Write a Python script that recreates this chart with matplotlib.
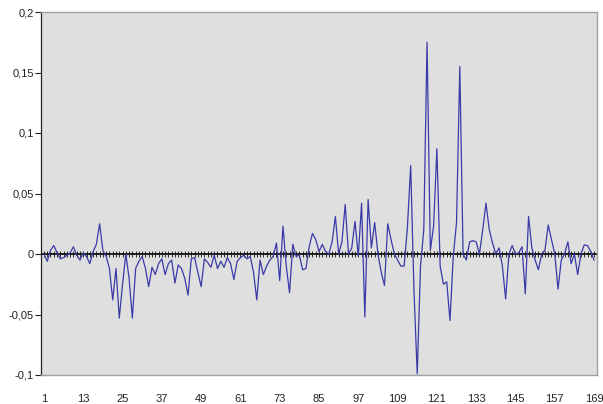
import matplotlib
matplotlib.use("Agg")
import matplotlib.pyplot as plt
import numpy as np

# daily changes, periods 1..169
vals_1_20 = [0.0, -0.006, 0.003, 0.007, 0.001, -0.004, -0.003, -0.001, 0.001, 0.006,
             -0.001, -0.005, 0.001, -0.002, -0.008, 0.002, 0.008, 0.025, 0.003, -0.002]
vals_21_41 = [-0.012, -0.038, -0.012, -0.053, -0.025, 0.0, -0.02, -0.053, -0.012, -0.006,
              -0.002, -0.012, -0.027, -0.011, -0.017, -0.008, -0.004, -0.017, -0.008, -0.005,
              -0.024]
vals_42_62 = [-0.009, -0.012, -0.02, -0.034, -0.004, -0.003, -0.015, -0.027, -0.004, -0.007,
              -0.011, -0.001, -0.012, -0.006, -0.011, -0.003, -0.008, -0.021, -0.006, -0.003,
              -0.001]
vals_63_81 = [-0.004, -0.002, -0.015, -0.038, -0.005, -0.017, -0.01, -0.005, -0.002, 0.009,
              -0.022, 0.023, -0.01, -0.032, 0.008, -0.002, -0.001, -0.013, -0.012]
vals_82_111 = [0.006, 0.017, 0.012, 0.002, 0.008, 0.002, 0.0, 0.01, 0.031, 0.0,
               0.01, 0.041, 0.0, 0.005, 0.027, -0.002, 0.042, -0.052, 0.045, 0.005,
               0.026, 0.0, -0.015, -0.026, 0.025, 0.012, 0.0, -0.005, -0.01, -0.01]
vals_112_140 = [0.022, 0.073, -0.03, -0.099, -0.01, 0.02, 0.175, 0.003, 0.023, 0.087,
                -0.01, -0.025, -0.023, -0.055, -0.002, 0.026, 0.155, 0.0, -0.005, 0.01,
                0.011, 0.01, 0.0, 0.02, 0.042, 0.02, 0.009, 0.0, 0.005]
vals_141_169 = [-0.01, -0.037, 0.0, 0.007, 0.0, 0.001, 0.006, -0.033, 0.031, 0.005,
                -0.005, -0.013, 0.0, 0.003, 0.024, 0.012, 0.0, -0.029, -0.005, 0.0,
                0.01, -0.008, 0.0, -0.017, 0.0, 0.0075, 0.007, 0.002, -0.005]

values = (vals_1_20 + vals_21_41 + vals_42_62 + vals_63_81
          + vals_82_111 + vals_112_140 + vals_141_169)
periods = np.arange(1, len(values) + 1)
x_labels = list(range(1, 170, 12))
y_ticks = [-0.1, -0.05, 0, 0.05, 0.1, 0.15, 0.2]
y_labels = ["-0,1", "-0,05", "0", "0,05", "0,1", "0,15", "0,2"]

plt.rcParams['font.family'] = ['Liberation Sans', 'DejaVu Sans']

fig = plt.figure(figsize=(6.03, 4.04), dpi=100)
ax = fig.add_axes([41 / 603, 29 / 404, 556 / 603, 363 / 404])
ax.set_facecolor('#dfdfdf')

ax.plot(periods, values, color='#3a3aa8', lw=0.9, zorder=3)

ax.set_xlim(0.1, 169.9)
ax.set_ylim(-0.1, 0.2)

ax.set_yticks(y_ticks)
ax.set_yticklabels(y_labels)
ax.tick_params(axis='y', direction='out', length=4, width=0.8, colors='#222222',
               labelsize=8, pad=1)

ax.set_xticks(x_labels)
ax.set_xticklabels([str(v) for v in x_labels])
ax.tick_params(axis='x', length=0, labelsize=8, pad=14, colors='#222222')

for side in ['top', 'right', 'bottom']:
    ax.spines[side].set_color('#a0a0a0')
    ax.spines[side].set_linewidth(1.0)
ax.spines['left'].set_color('#222222')
ax.spines['left'].set_linewidth(0.9)

# category axis crossing at zero, with a tick for every period
ax.axhline(0, color='#111111', lw=1.3, zorder=2)
zero_pos = (0 - (-0.1)) / 0.3
sec = ax.secondary_xaxis(zero_pos)
sec.set_xticks(periods)
sec.tick_params(axis='x', direction='inout', length=5, width=0.6,
                colors='#111111', labelbottom=False, labeltop=False)
for side in ['top', 'bottom']:
    sec.spines[side].set_visible(False)

fig.savefig('out.png', dpi=100, facecolor='white')
